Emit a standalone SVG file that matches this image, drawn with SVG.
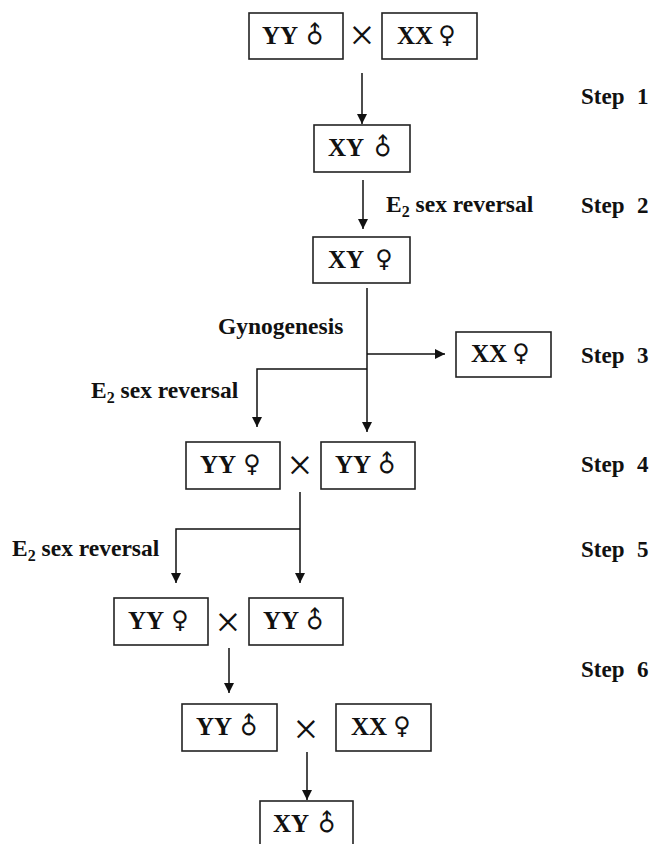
<svg xmlns="http://www.w3.org/2000/svg" width="662" height="844" viewBox="0 0 662 844">
<defs>
<marker id="ah" markerWidth="10" markerHeight="12" refX="10" refY="5" orient="auto" markerUnits="userSpaceOnUse">
<path d="M0,0 L10,5 L0,10 Z" fill="#111"/>
</marker>
<style>
rect{fill:#fff;stroke:#222;stroke-width:1.6}
.t{font-family:"Liberation Serif",serif;font-weight:bold;font-size:25px;fill:#111}
.s{font-family:"DejaVu Sans",sans-serif;font-size:24px;fill:#111;text-anchor:middle;dominant-baseline:central}
.l{font-family:"Liberation Serif",serif;font-weight:bold;font-size:23.5px;fill:#111}
.st{font-family:"Liberation Serif",serif;font-weight:bold;font-size:23px;fill:#111}
.x{font-family:"Liberation Serif",serif;font-size:44px;fill:#111;text-anchor:middle;dominant-baseline:central}
.c{fill:none;stroke:#111;stroke-width:1.5}
</style>
</defs>
<rect x="0" y="0" width="662" height="844" style="fill:#fff;stroke:none"/>

<g id="n1" transform="translate(249,13)"><rect width="94" height="46"/><text class="t" x="13" y="31">YY</text><text class="s" x="66" y="22" transform="rotate(-45 66 22)">♂</text></g>
<g id="x1"><text class="x" x="362" y="35">×</text></g>
<g id="n2" transform="translate(382,13)"><rect width="95" height="46"/><text class="t" x="15" y="31">XX</text><text class="s" x="65" y="22">♀</text></g>

<g id="n3" transform="translate(314,125)"><rect width="96" height="47"/><text class="t" x="14" y="31">XY</text><text class="s" x="69" y="22" transform="rotate(-45 69 22)">♂</text></g>
<g id="n4" transform="translate(313,237)"><rect width="97" height="46"/><text class="t" x="15" y="31">XY</text><text class="s" x="71" y="22">♀</text></g>
<g id="n5" transform="translate(456,332)"><rect width="95" height="45"/><text class="t" x="15" y="30">XX</text><text class="s" x="65" y="21">♀</text></g>

<g id="n6" transform="translate(186,442)"><rect width="94" height="47"/><text class="t" x="14" y="31">YY</text><text class="s" x="66" y="22">♀</text></g>
<g id="x2"><text class="x" x="300" y="465">×</text></g>
<g id="n7" transform="translate(321,442)"><rect width="94" height="47"/><text class="t" x="14" y="31">YY</text><text class="s" x="66" y="22" transform="rotate(-45 66 22)">♂</text></g>

<g id="n8" transform="translate(114,598)"><rect width="94" height="47"/><text class="t" x="14" y="31">YY</text><text class="s" x="66" y="22">♀</text></g>
<g id="x3"><text class="x" x="228" y="622">×</text></g>
<g id="n9" transform="translate(249,598)"><rect width="94" height="47"/><text class="t" x="14" y="31">YY</text><text class="s" x="66" y="22" transform="rotate(-45 66 22)">♂</text></g>

<g id="n10" transform="translate(182,704)"><rect width="95" height="47"/><text class="t" x="14" y="31">YY</text><text class="s" x="67" y="22" transform="rotate(-45 67 22)">♂</text></g>
<g id="x4"><text class="x" x="306" y="729">×</text></g>
<g id="n11" transform="translate(336,704)"><rect width="95" height="47"/><text class="t" x="15" y="31">XX</text><text class="s" x="66" y="22">♀</text></g>

<g id="n12" transform="translate(260,801)"><rect width="93" height="46"/><text class="t" x="13" y="31">XY</text><text class="s" x="67" y="22" transform="rotate(-45 67 22)">♂</text></g>

<g id="labels">
<text class="l" x="386" y="212">E<tspan font-size="16" dy="5">2</tspan><tspan dy="-5"> sex reversal</tspan></text>
<text class="l" x="218" y="334">Gynogenesis</text>
<text class="l" x="91" y="398">E<tspan font-size="16" dy="5">2</tspan><tspan dy="-5"> sex reversal</tspan></text>
<text class="l" x="12" y="556">E<tspan font-size="16" dy="5">2</tspan><tspan dy="-5"> sex reversal</tspan></text>
</g>
<g id="steps" class="st">
<text x="581" y="104">Step</text><text x="637" y="104">1</text>
<text x="581" y="213">Step</text><text x="637" y="213">2</text>
<text x="581" y="363">Step</text><text x="637" y="363">3</text>
<text x="581" y="472">Step</text><text x="637" y="472">4</text>
<text x="581" y="557">Step</text><text x="637" y="557">5</text>
<text x="581" y="677">Step</text><text x="637" y="677">6</text>
</g>

<g id="connectors" class="c">
<path d="M362,73 V124" marker-end="url(#ah)"/>
<path d="M363,180 V229" marker-end="url(#ah)"/>
<path d="M367,288 V432" marker-end="url(#ah)"/>
<path d="M367,354 H445" marker-end="url(#ah)"/>
<path d="M367,369 H257 V427" marker-end="url(#ah)"/>
<path d="M300,492 V583" marker-end="url(#ah)"/>
<path d="M300,529 H176 V583" marker-end="url(#ah)"/>
<path d="M229,648 V693" marker-end="url(#ah)"/>
<path d="M307,752 V800" marker-end="url(#ah)"/>
</g>
</svg>
